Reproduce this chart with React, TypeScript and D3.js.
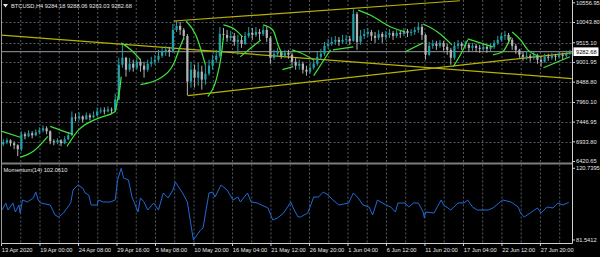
import React from 'react';
import * as d3 from 'd3';

const W = 600;
const H = 257;

// ---- price data: 12h candles (3 H4 bars each), open = previous close ----
const BARS_PER_CANDLE = 3;
const firstOpen = 6871;
const closes = [
  6922, 6974, 6896, 6845, 6741, 7130, 7078, 7156, 7104, 7182,
  7233, 7285, 7208, 6948, 6922, 6974, 6896, 7000, 7104, 7570,
  7544, 7596, 7518, 7622, 7570, 7622, 7726, 7752, 7726, 7778,
  7752, 8037, 8943, 9124, 8813, 8969, 8865, 9021, 8917, 8813,
  8969, 9021, 9073, 9176, 9280, 9331, 9280, 9849, 9953, 9849,
  9694, 8503, 8813, 8606, 8762, 8555, 8710, 8917, 9073, 9176,
  9746, 9720, 9642, 9694, 9539, 9590, 9487, 9694, 9772, 9720,
  9798, 9746, 9849, 9642, 9124, 9228, 9280, 9176, 9254, 9202,
  9021, 8917, 8969, 8813, 8762, 8865, 8969, 9150, 9228, 9435,
  9487, 9539, 9590, 9539, 9590, 9616, 9565, 10264, 9539, 9694,
  9746, 9798, 9694, 9642, 9746, 9668, 9720, 9772, 9694, 9772,
  9746, 9824, 9772, 9798, 9849, 9927, 9720, 9202, 9435, 9487,
  9435, 9513, 9409, 9331, 9124, 9435, 9487, 9435, 9461, 9383,
  9435, 9383, 9357, 9409, 9357, 9409, 9513, 9590, 9694, 9720,
  9590, 9435, 9331, 9202, 9150, 9176, 9124, 9176, 9073, 9021,
  9150, 9124, 9176, 9150, 9202, 9176, 9228, 9282.68,
];
const highs = [
  7000, 7026, 7000, 6948, 6871, 7208, 7182, 7233, 7208, 7259,
  7311, 7363, 7337, 7233, 7000, 7026, 7000, 7078, 7182, 7726,
  7674, 7700, 7622, 7700, 7674, 7726, 7830, 7830, 7830, 7856,
  7830, 8192, 9124, 9461, 9150, 9124, 9073, 9124, 9098, 9021,
  9073, 9150, 9202, 9331, 9383, 9435, 9409, 10005, 10083, 10057,
  9901, 9746, 9021, 8943, 8995, 8917, 8943, 9073, 9202, 9331,
  9927, 9901, 9849, 9824, 9772, 9720, 9694, 9798, 9927, 9901,
  9927, 9875, 9953, 9927, 9694, 9331, 9383, 9306, 9331, 9331,
  9254, 9124, 9073, 9021, 8917, 8995, 9073, 9280, 9357, 9539,
  9616, 9668, 9694, 9668, 9720, 9720, 9694, 10393, 10316, 9849,
  9875, 9901, 9849, 9798, 9849, 9798, 9824, 9875, 9824, 9849,
  9849, 9901, 9875, 9875, 9927, 10031, 10005, 9746, 9539, 9590,
  9565, 9590, 9565, 9487, 9383, 9539, 9590, 9539, 9565, 9513,
  9513, 9487, 9461, 9513, 9461, 9487, 9590, 9694, 9772, 9824,
  9772, 9642, 9487, 9357, 9280, 9280, 9228, 9280, 9228, 9176,
  9228, 9228, 9254, 9228, 9280, 9254, 9306, 9331,
];
const lows = [
  6819, 6871, 6819, 6741, 6560, 6689, 7000, 7052, 7026, 7078,
  7130, 7182, 7130, 6871, 6845, 6871, 6819, 6871, 6974, 7078,
  7467, 7492, 7441, 7518, 7492, 7544, 7596, 7674, 7648, 7700,
  7674, 7726, 8011, 8865, 8632, 8762, 8762, 8813, 8762, 8606,
  8762, 8891, 8943, 9021, 9124, 9176, 9150, 9254, 9798, 9720,
  9590, 8140, 8348, 8348, 8399, 8296, 8425, 8658, 8813, 8995,
  9124, 9590, 9539, 9565, 9435, 9202, 9383, 9461, 9642, 9590,
  9668, 9590, 9694, 9539, 8969, 9073, 9150, 9098, 9124, 9098,
  8917, 8813, 8813, 8710, 8658, 8710, 8813, 8917, 9073, 9176,
  9357, 9435, 9461, 9435, 9487, 9487, 9461, 9539, 9331, 9461,
  9616, 9668, 9565, 9513, 9590, 9513, 9590, 9642, 9590, 9642,
  9642, 9694, 9668, 9694, 9720, 9772, 9590, 9073, 9176, 9357,
  9331, 9383, 9306, 9202, 8943, 9073, 9357, 9331, 9357, 9280,
  9306, 9280, 9254, 9306, 9254, 9280, 9357, 9461, 9539, 9590,
  9487, 9331, 9228, 9124, 9047, 9073, 9021, 9073, 8969, 8891,
  8995, 9047, 9073, 9047, 9098, 9073, 9124, 9202,
];

const totalBars = 473;
const bidPrice = 9282.68;
const headerText = 'BTCUSD,H4  9284.18 9288.06 9263.03 9282.68';

// ---- axis ticks ----
const priceTicks = [10556.95, 10043.8, 9515.1, 9001.95, 8488.8, 7960.1, 7446.95, 6933.8, 6420.65];
const timeLabels = [
  '13 Apr 2020', '19 Apr 00:00', '24 Apr 08:00', '29 Apr 16:00', '5 May 08:00',
  '10 May 20:00', '16 May 04:00', '21 May 12:00', '26 May 20:00', '1 Jun 04:00',
  '6 Jun 12:00', '11 Jun 20:00', '17 Jun 04:00', '22 Jun 12:00', '27 Jun 20:00',
];
const BARS_PER_LABEL = 32;
const BARS_PER_GRID = 16;

// ---- momentum(14): [bar index, value] ----
const momMax = 120.7395;
const momMin = 81.5412;
const momLabel = 'Momentum(14) 102.0610';
const momentum: [number, number][] = [
  [0, 97.94], [3, 101.77], [5, 97.94], [9, 101.77], [11, 96.85], [14, 100.68], [15, 96.3],
  [17, 103.41], [21, 102.32], [26, 104.5], [28, 107.78], [30, 103.41], [32, 101.77],
  [40, 100.68], [44, 95.21], [47, 94.12], [51, 96.3], [57, 101.77], [59, 108.88],
  [63, 111.61], [67, 109.97], [69, 107.24], [72, 106.15], [74, 100.68], [79, 100.68],
  [80, 103.41], [84, 102.32], [90, 102.32], [94, 103.41], [96, 114.34], [99, 120.74],
  [101, 115.44], [105, 114.34], [108, 105.05], [113, 96.85], [115, 104.5], [118, 102.32],
  [121, 97.94], [126, 101.77], [130, 97.94], [134, 107.24], [138, 104.5], [142, 108.88],
  [144, 113.25], [150, 107.24], [154, 102.32], [157, 89.74], [159, 81.54], [162, 84.27],
  [165, 87.01], [167, 88.1], [172, 107.24], [175, 107.78], [177, 105.05], [182, 111.61],
  [187, 108.88], [192, 103.41], [196, 105.05], [198, 102.32], [204, 107.24], [207, 102.32],
  [212, 101.77], [221, 99.04], [225, 92.48], [229, 93.57], [234, 96.3], [240, 102.32],
  [242, 99.04], [246, 94.12], [248, 94.12], [254, 96.3], [256, 99.59], [259, 105.05],
  [263, 105.05], [267, 107.78], [271, 106.15], [275, 103.41], [280, 100.68], [288, 101.77],
  [292, 107.24], [296, 104.5], [300, 100.68], [305, 99.59], [308, 95.21], [312, 103.41],
  [319, 100.68], [323, 99.59], [327, 96.85], [329, 101.77], [335, 101.77], [338, 99.59],
  [342, 101.77], [346, 101.77], [350, 96.85], [351, 93.57], [352, 96.85], [359, 96.3],
  [365, 103.41], [367, 100.68], [373, 97.94], [379, 101.77], [384, 101.77], [387, 103.41],
  [391, 99.59], [395, 97.94], [404, 97.94], [408, 99.04], [416, 103.41], [423, 102.32],
  [429, 99.59], [431, 96.3], [434, 94.12], [439, 96.3], [445, 99.04], [448, 96.3],
  [453, 99.59], [458, 99.04], [462, 101.77], [466, 100.68], [471, 102.06],
];

// ---- parabolic SAR runs: [bar index, price] ----
const sarSegments: [number, number][][] = [
  [[0, 7208], [15, 7052]],
  [[15, 6534], [26, 6690], [38, 7078]],
  [[40, 7337], [49, 7233], [59, 7130]],
  [[54, 6819], [64, 7259], [74, 7467], [82, 7570], [94, 7726], [96, 8037], [98, 8348], [99, 8632]],
  [[99, 9513], [107, 9331], [115, 9073]],
  [[115, 8425], [132, 8606], [143, 8995], [148, 9409], [151, 9642]],
  [[153, 10083], [161, 9720], [169, 8943]],
  [[171, 8114], [178, 8555], [182, 9150], [184, 9668]],
  [[184, 9979], [194, 9849], [200, 9668]],
  [[198, 9150], [207, 9383], [215, 9590]],
  [[217, 9979], [225, 9849], [230, 9409], [233, 9202]],
  [[233, 8813], [242, 8891]],
  [[241, 9331], [248, 9254], [259, 9073]],
  [[259, 8658], [266, 8995], [273, 9331]],
  [[275, 9331], [292, 9409]],
  [[296, 10368], [306, 10238], [323, 9927], [335, 9798]],
  [[335, 9280], [350, 9513]],
  [[350, 10005], [362, 9798], [374, 9461]],
  [[375, 8891], [381, 9202], [387, 9590]],
  [[387, 9616], [408, 9409]],
  [[408, 9202], [416, 9280], [423, 9668]],
  [[424, 9798], [431, 9590], [437, 9331], [448, 9150]],
  [[450, 8865], [472, 9150]],
];

// ---- trend lines: [bar, price] -> [bar, price] ----
const trendLines: [[number, number], [number, number]][] = [
  [[0, 9717], [474, 8583]],
  [[143, 10083], [381, 10610]],
  [[155, 8140], [474, 9254]],
];

const FONT = '"Liberation Sans", Arial, sans-serif';

export default function App() {
  const L = 1.5;
  const R = 572.5;
  const mainTop = 0;
  const mainBottom = 162.5;
  const momTop = 164.5;
  const momBottom = 243.5;

  const x = d3.scaleLinear().domain([0, totalBars]).range([L, L + totalBars * 1.203]);
  const y = d3.scaleLinear().domain([6420.65, 10556.95]).range([161.5, 2.8]);
  const ym = d3.scaleLinear().domain([momMin, momMax]).range([240, 168.3]);

  const gridBars = d3.range(BARS_PER_GRID, totalBars, BARS_PER_GRID).filter((b) => x(b) < R - 2);

  const candles = closes.map((c, k) => {
    const o = k === 0 ? firstOpen : closes[k - 1];
    const hi = Math.max(highs[k], o, c);
    const lo = Math.min(lows[k], o, c);
    const bar = k * BARS_PER_CANDLE + BARS_PER_CANDLE / 2;
    return { o, c, hi, lo, bar, bull: c >= o };
  });

  const momLine = d3
    .line<[number, number]>()
    .x((d) => x(d[0] + 0.5))
    .y((d) => ym(d[1]));
  const sarLine = d3
    .line<[number, number]>()
    .x((d) => x(d[0] + 0.5))
    .y((d) => y(d[1]))
    .curve(d3.curveMonotoneX);

  const fmtP = d3.format('.2f');
  const fmtM = d3.format('.4f');
  const bull = '#23a0a6';
  const bear = '#b4b4b4';
  const gridColor = '#5c6470';
  const textColor = '#e6e6e6';
  const fs = 5.7;

  return (
    <svg
      width={W}
      height={H}
      style={{ position: 'fixed', left: 0, top: 0, background: '#000' }}
      fontFamily={FONT}
    >
      <defs>
        <clipPath id="mainClip">
          <rect x={L} y={mainTop} width={R - L} height={mainBottom - mainTop} />
        </clipPath>
        <clipPath id="momClip">
          <rect x={L} y={momTop} width={R - L} height={momBottom - momTop} />
        </clipPath>
      </defs>
      <rect x={0} y={0} width={W} height={H} fill="#000" />

      {/* grid */}
      {gridBars.map((b) => (
        <g key={'g' + b}>
          <line x1={x(b)} x2={x(b)} y1={mainTop} y2={mainBottom} stroke={gridColor} strokeDasharray="2,2" strokeWidth={0.9} />
          <line x1={x(b)} x2={x(b)} y1={momTop} y2={momBottom} stroke={gridColor} strokeDasharray="2,2" strokeWidth={0.9} />
        </g>
      ))}
      {priceTicks.slice(1, -1).map((p) => (
        <line key={'h' + p} x1={L} x2={R} y1={Math.round(y(p)) + 0.5} y2={Math.round(y(p)) + 0.5} stroke={gridColor} strokeDasharray="2,2" strokeWidth={0.9} />
      ))}

      <g clipPath="url(#mainClip)">
        {/* bid line */}
        <line x1={L} x2={R} y1={y(bidPrice)} y2={y(bidPrice)} stroke="#9c9c9c" strokeWidth={1} />
        {/* trend lines */}
        {trendLines.map((t, i) => (
          <line key={'t' + i} x1={x(t[0][0])} y1={y(t[0][1])} x2={x(t[1][0])} y2={y(t[1][1])} stroke="#b8b200" strokeWidth={1.2} />
        ))}
        {/* candles */}
        {candles.map((c, i) => {
          const col = c.bull ? bull : bear;
          const xc = x(c.bar);
          const top = y(Math.max(c.o, c.c));
          const bot = y(Math.min(c.o, c.c));
          return (
            <g key={'c' + i}>
              <line x1={xc} x2={xc} y1={y(c.hi)} y2={y(c.lo)} stroke={col} strokeWidth={1} />
              <rect x={xc - 1.1} y={top} width={2.2} height={Math.max(1, bot - top)} fill={col} />
            </g>
          );
        })}
        {/* parabolic SAR */}
        {sarSegments.map((s, i) => (
          <path key={'s' + i} d={sarLine(s) || ''} fill="none" stroke="#3fe03a" strokeWidth={1.25} />
        ))}
      </g>

      <g clipPath="url(#momClip)">
        <path d={momLine(momentum) || ''} fill="none" stroke="#1f6ad4" strokeWidth={1} />
      </g>

      {/* frames */}
      <line x1={L} x2={L} y1={0} y2={momBottom} stroke="#9a9a9a" strokeWidth={1} />
      <line x1={L} x2={R} y1={163.5} y2={163.5} stroke="#7c7c7c" strokeWidth={2} />
      <line x1={L} x2={R} y1={momBottom} y2={momBottom} stroke="#d0d0d0" strokeWidth={1} />
      <line x1={R} x2={R} y1={0} y2={momBottom} stroke="#d0d0d0" strokeWidth={1} />

      {/* price axis */}
      {priceTicks.map((p) => (
        <g key={'p' + p}>
          <line x1={R} x2={R + 2.5} y1={y(p)} y2={y(p)} stroke="#d0d0d0" strokeWidth={1} />
          <text x={576} y={y(p)} dy="0.35em" fontSize={fs} fill={textColor}>
            {fmtP(p)}
          </text>
        </g>
      ))}
      <rect x={573.5} y={y(bidPrice) - 4.3} width={25} height={8.6} fill="#ffffff" />
      <text x={576} y={y(bidPrice)} dy="0.35em" fontSize={fs} fill="#000">
        {fmtP(bidPrice)}
      </text>

      {/* momentum axis */}
      {[momMax, momMin].map((v) => (
        <g key={'m' + v}>
          <line x1={R} x2={R + 2.5} y1={ym(v)} y2={ym(v)} stroke="#d0d0d0" strokeWidth={1} />
          <text x={576} y={ym(v)} dy="0.35em" fontSize={fs} fill={textColor}>
            {fmtM(v)}
          </text>
        </g>
      ))}

      {/* time axis */}
      {timeLabels.map((t, i) => {
        const xb = x(i * BARS_PER_LABEL);
        return (
          <g key={'x' + i}>
            <line x1={xb} x2={xb} y1={momBottom} y2={momBottom + 2.5} stroke="#d0d0d0" strokeWidth={1} />
            <text x={xb + 0.3} y={252} fontSize={fs} fill={textColor}>
              {t}
            </text>
          </g>
        );
      })}

      {/* headers */}
      <path d="M3,4 L8,4 L5.5,7.5 Z" fill="#e6e6e6" />
      <text x={11} y={8.3} fontSize={fs} fill={textColor}>
        {headerText}
      </text>
      <text x={3.5} y={171.5} fontSize={fs} fill={textColor}>
        {momLabel}
      </text>
    </svg>
  );
}
